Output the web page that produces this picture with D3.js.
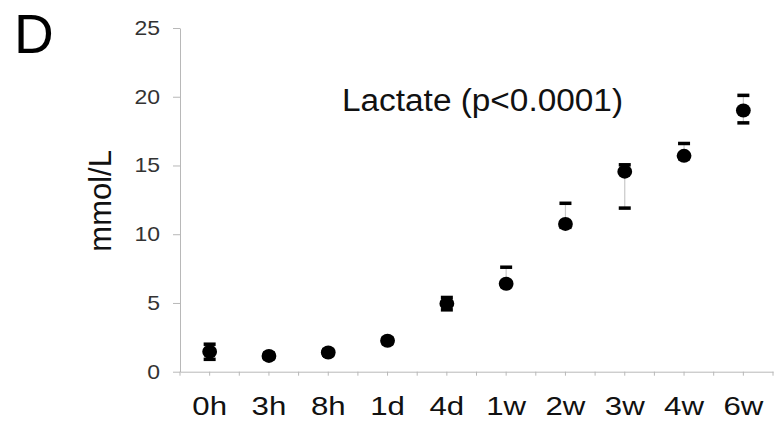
<!DOCTYPE html>
<html>
<head>
<meta charset="utf-8">
<script src="https://cdn.jsdelivr.net/npm/d3@7"></script>
<style>
  html, body { margin: 0; padding: 0; background: #fff; }
  svg { display: block; font-family: Arial, "Liberation Sans", Helvetica, sans-serif; }
</style>
</head>
<body>
<svg id="chart" width="780" height="421"></svg>
<script>
// Lactate concentration over time (median with spread)
const categories = ["0h", "3h", "8h", "1d", "4d", "1w", "2w", "3w", "4w", "6w"];
const centers    = [1.45, 1.15, 1.4, 2.25, 4.95, 6.4, 10.75, 14.55, 15.7, 19.0];
const upperVals  = [2.0, 1.35, 1.6, 2.45, 5.4, 7.6, 12.25, 15.05, 16.6, 20.1];
const lowerVals  = [0.9, 0.95, 1.2, 2.05, 4.5, 6.2, 10.5, 11.9, 15.5, 18.1];
const yTicks     = [0, 5, 10, 15, 20, 25];

const svg = d3.select("#chart");
const plotL = 180, plotR = 773, plotT = 28, plotB = 371.7;

const x = d3.scaleBand().domain(categories).range([plotL, plotR]).paddingInner(0).paddingOuter(0);
const y = d3.scaleLinear().domain([0, 25]).range([plotB, plotT]);

const axisColor = "#b8b8b8";
const wide = 1.15; // slightly widened glyphs

// Y axis
const yAxis = svg.append("g").attr("transform", `translate(${plotL},0)`)
  .call(d3.axisLeft(y).tickValues(yTicks).tickSize(7).tickSizeOuter(0).tickPadding(13));
yAxis.select(".domain").attr("stroke", axisColor);
yAxis.selectAll(".tick line").attr("stroke", axisColor);
yAxis.selectAll(".tick text")
  .attr("x", 0)
  .attr("transform", `translate(-20,0) scale(${wide},1)`)
  .attr("fill", "#333").attr("font-size", 20)
  .attr("font-family", "Arial, 'Liberation Sans', sans-serif");

// X axis with ticks at category centres
const xAxis = svg.append("g").attr("transform", `translate(0,${plotB})`)
  .call(d3.axisBottom(x).tickSize(4).tickSizeOuter(0).tickPadding(10));
xAxis.select(".domain").attr("stroke", axisColor);
xAxis.selectAll(".tick line").attr("stroke", axisColor);
xAxis.selectAll(".tick text")
  .attr("y", 0).attr("dy", null)
  .attr("transform", `translate(0,43) scale(1.2,1)`)
  .attr("fill", "#111").attr("font-size", 26)
  .attr("font-family", "Arial, 'Liberation Sans', sans-serif");

// Extra ticks at category boundaries
svg.append("g").selectAll("line")
  .data(categories.concat(["__end"]))
  .join("line")
  .attr("x1", (d, i) => plotL + i * x.step())
  .attr("x2", (d, i) => plotL + i * x.step())
  .attr("y1", plotB)
  .attr("y2", plotB + 4)
  .attr("stroke", axisColor);

const pts = categories.map((c, i) => ({ c, v: centers[i], hi: upperVals[i], lo: lowerVals[i] }));
const cx = d => x(d.c) + x.bandwidth() / 2;

// Whiskers
svg.append("g").selectAll("line")
  .data(pts).join("line")
  .attr("x1", cx).attr("x2", cx)
  .attr("y1", d => y(d.hi)).attr("y2", d => y(d.lo))
  .attr("stroke", "#c8c8c8").attr("stroke-width", 1.2);

// Caps
const capW = 12, capH = 3.5;
svg.append("g").selectAll("rect")
  .data(pts.flatMap(d => [{ d, v: d.hi }, { d, v: d.lo }])).join("rect")
  .attr("x", e => cx(e.d) - capW / 2)
  .attr("y", e => y(e.v) - capH / 2)
  .attr("width", capW).attr("height", capH)
  .attr("fill", "#000");

// Points
svg.append("g").selectAll("ellipse")
  .data(pts).join("ellipse")
  .attr("cx", cx).attr("cy", d => y(d.v))
  .attr("rx", 7.4).attr("ry", 7).attr("fill", "#000");

// Y axis title
svg.append("text")
  .attr("transform", `translate(111,${(plotT + plotB) / 2 + 1}) rotate(-90)`)
  .attr("text-anchor", "middle")
  .attr("font-size", 31).attr("fill", "#111")
  .text("mmol/L");

// Annotation
svg.append("text")
  .attr("x", 342).attr("y", 111)
  .attr("textLength", 281).attr("lengthAdjust", "spacingAndGlyphs")
  .attr("font-size", 31).attr("fill", "#111")
  .text("Lactate (p<0.0001)");

// Panel letter
svg.append("text")
  .attr("x", 14).attr("y", 53)
  .attr("font-size", 55).attr("fill", "#000")
  .text("D");
</script>
</body>
</html>
